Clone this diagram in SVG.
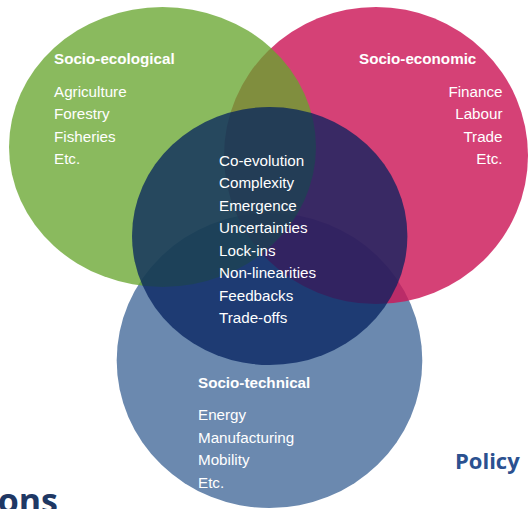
<svg xmlns="http://www.w3.org/2000/svg" width="529" height="509" viewBox="0 0 529 509">
<style>
  .t { font-family: "Liberation Sans", Arial, sans-serif; font-size: 15.2px; fill: #ffffff; }
  .h { font-weight: bold; }
  .r { text-anchor: end; }
  .side { font-family: "Open Sans", "Noto Sans", sans-serif; font-weight: bold; }
</style>
<rect width="529" height="509" fill="#ffffff"/>
<g id="connectors"></g>
<g id="socio-technical">
  <ellipse cx="269.5" cy="360.5" rx="152.8" ry="147.5" fill="#6B89AF"/>
  <text class="t h" x="198" y="387.5">Socio-technical</text>
  <text class="t" x="198" y="420">Energy</text>
  <text class="t" x="198" y="442.5">Manufacturing</text>
  <text class="t" x="198" y="465">Mobility</text>
  <text class="t" x="198" y="487.5">Etc.</text>
</g>
<g id="socio-economic">
  <ellipse cx="376" cy="155.5" rx="152" ry="148.5" fill="rgb(204,23,88)" fill-opacity="0.82"/>
  <text class="t h" x="359" y="64">Socio-economic</text>
  <text class="t r" x="502.5" y="96.5">Finance</text>
  <text class="t r" x="502.5" y="119">Labour</text>
  <text class="t r" x="502.5" y="141.5">Trade</text>
  <text class="t r" x="502.5" y="163.5">Etc.</text>
</g>
<g id="socio-ecological">
  <ellipse cx="162.5" cy="147" rx="153.5" ry="140" fill="rgb(103,165,46)" fill-opacity="0.77"/>
  <text class="t h" x="54" y="64">Socio-ecological</text>
  <text class="t" x="54" y="96.5">Agriculture</text>
  <text class="t" x="54" y="119">Forestry</text>
  <text class="t" x="54" y="141.5">Fisheries</text>
  <text class="t" x="54" y="163.5">Etc.</text>
</g>
<g id="core">
  <ellipse cx="269.7" cy="236" rx="137.7" ry="129" fill="rgb(3,32,94)" fill-opacity="0.74"/>
  <text class="t" x="219" y="165.5">Co-evolution</text>
  <text class="t" x="219" y="188">Complexity</text>
  <text class="t" x="219" y="210.5">Emergence</text>
  <text class="t" x="219" y="233">Uncertainties</text>
  <text class="t" x="219" y="255.5">Lock-ins</text>
  <text class="t" x="219" y="278">Non-linearities</text>
  <text class="t" x="219" y="300.5">Feedbacks</text>
  <text class="t" x="219" y="323">Trade-offs</text>
</g>
<g id="policy">
  <text class="side" x="455" y="468.5" font-size="22" fill="#2B5190">Policy</text>
</g>
<g id="ons">
  <text class="side" x="58" y="513" font-size="34" fill="#1F3864" text-anchor="end">ons</text>
</g>
</svg>
